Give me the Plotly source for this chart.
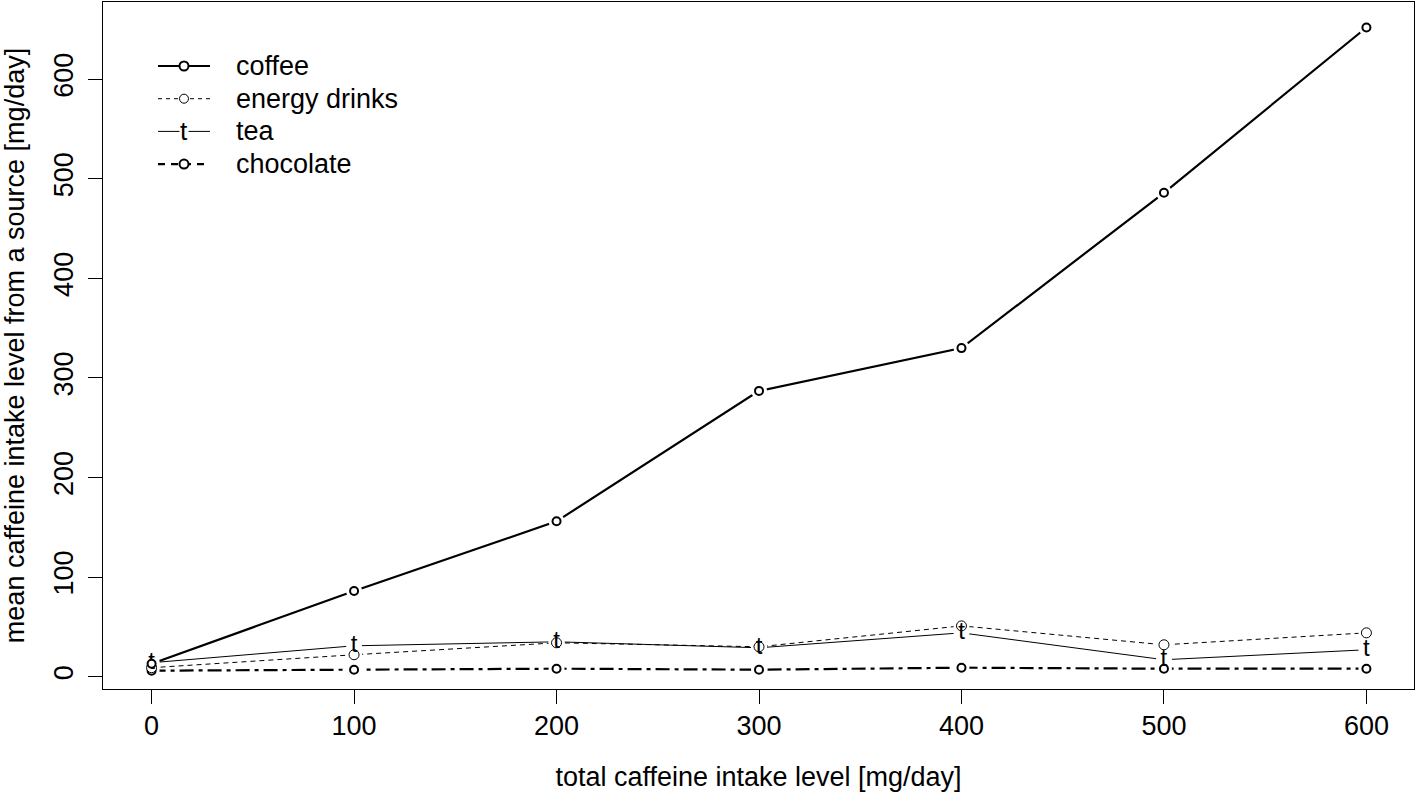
import plotly.graph_objects as go

# total caffeine intake level (x) and mean intake from each source (y), mg/day
intake = [0, 100, 200, 300, 400, 500, 600]
coffee = [13, 86, 156, 287, 330, 486, 652]
energy_drinks = [9, 22, 34, 30, 51, 32, 44]
tea = [14, 31, 35, 29, 44, 17, 27]
chocolate = [6, 7, 8, 7, 9, 8, 8]

x_ticks = [0, 100, 200, 300, 400, 500, 600]
y_ticks = [0, 100, 200, 300, 400, 500, 600]
legend_names = ["coffee", "energy drinks", "tea", "chocolate"]

FONT = "Liberation Sans, Arial, sans-serif"
FS = 27

fig = go.Figure()

# series styling, R type="b" look: line, white gap, then the point symbol
series = [
    dict(y=chocolate, width=2.2, dash="14px,5px,4px,5px", sym="circle", size=8, mlw=2),
    dict(y=energy_drinks, width=1, dash="5px,4px", sym="circle", size=10, mlw=1),
    dict(y=tea, width=1, dash="solid", sym="t", size=0, mlw=0),
    dict(y=coffee, width=2.2, dash="solid", sym="circle", size=8, mlw=2),
]

# lines
for s in series:
    fig.add_trace(go.Scatter(
        x=intake, y=s["y"], mode="lines",
        line=dict(color="black", width=s["width"], dash=s["dash"]),
        showlegend=False, hoverinfo="skip"))

# white gaps round the points
for s in series:
    fig.add_trace(go.Scatter(
        x=intake, y=s["y"], mode="markers",
        marker=dict(symbol="circle", size=16, color="white", line=dict(width=0)),
        showlegend=False, hoverinfo="skip"))

# point symbols
for s in series:
    if s["sym"] == "t":
        fig.add_trace(go.Scatter(
            x=intake, y=s["y"], mode="text", text=["t"] * len(intake),
            textposition="middle center",
            textfont=dict(family=FONT, size=24, color="black"),
            showlegend=False, hoverinfo="skip"))
    else:
        fig.add_trace(go.Scatter(
            x=intake, y=s["y"], mode="markers",
            marker=dict(symbol="circle", size=s["size"], color="white",
                        line=dict(color="black", width=s["mlw"])),
            showlegend=False))

# hand-made legend in the top-left corner (like R's legend())
leg_styles = [
    dict(width=2.2, dash="solid", mark="o", mlw=2),
    dict(width=1, dash="4px,4px", mark="o", mlw=1),
    dict(width=1, dash="solid", mark="t", mlw=0),
    dict(width=2.2, dash="7px,6px", mark="o", mlw=2),
]
px_w, px_h = 1311, 687
for i, (name, st) in enumerate(zip(legend_names, leg_styles)):
    yy = (689 - (66 + i * 32.7)) / px_h
    x0, x1, xm = (158 - 103) / px_w, (210 - 103) / px_w, (184 - 103) / px_w
    fig.add_shape(type="line", xref="paper", yref="paper", x0=x0, x1=x1, y0=yy, y1=yy,
                  line=dict(color="black", width=st["width"], dash=st["dash"]))
    if st["mark"] == "o":
        fig.add_shape(type="circle", xref="paper", yref="paper",
                      xsizemode="pixel", ysizemode="pixel", xanchor=xm, yanchor=yy,
                      x0=-4.5, x1=4.5, y0=-4.5, y1=4.5, fillcolor="white",
                      line=dict(color="black", width=st["mlw"]))
    else:
        fig.add_annotation(x=xm, y=yy, xref="paper", yref="paper", text="t",
                           showarrow=False, font=dict(family=FONT, size=26, color="black"),
                           bgcolor="white", borderpad=0, xanchor="center", yanchor="middle")
    fig.add_annotation(x=(234 - 103) / px_w, y=yy, xref="paper", yref="paper", text=name,
                       showarrow=False, xanchor="left", yanchor="middle",
                       font=dict(family=FONT, size=FS, color="black"))

axis_common = dict(
    showgrid=False, zeroline=False, showline=True, linecolor="black", linewidth=1,
    mirror=True, ticks="outside", ticklen=14, tickwidth=1, tickcolor="black",
    automargin=False,
    tickfont=dict(family=FONT, size=FS, color="black"),
)

fig.update_layout(
    width=1418, height=796,
    margin=dict(l=103, r=4, t=2, b=107),
    plot_bgcolor="white", paper_bgcolor="white",
    showlegend=False,
    font=dict(family=FONT, size=FS, color="black"),
    xaxis=dict(range=[-24, 623.5], tickvals=x_ticks, ticklabelstandoff=-1,
               title=dict(text="total caffeine intake level [mg/day]",
                          font=dict(family=FONT, size=FS), standoff=26),
               **axis_common),
    yaxis=dict(range=[-12.4, 677.6], tickvals=y_ticks, tickangle=-90, ticklabelstandoff=4,
               title=dict(text="mean caffeine intake level from a source [mg/day]",
                          font=dict(family=FONT, size=FS), standoff=20),
               **axis_common),
)

# drop the page's default body margin so the figure sits at the window corner
fig.write_html("out.html", config={"displayModeBar": False},
               post_script="document.body.style.margin='0';")
